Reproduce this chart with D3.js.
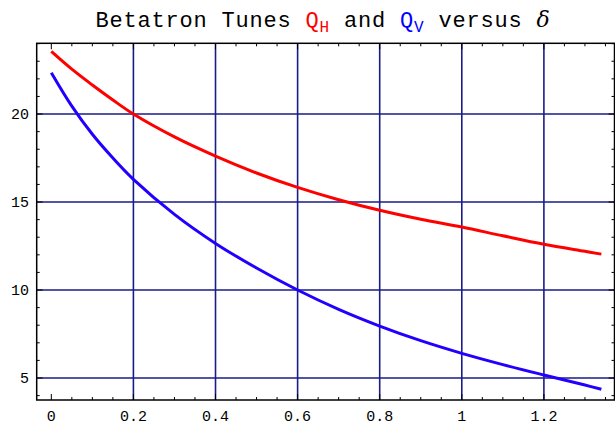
<!DOCTYPE html>
<html>
<head>
<meta charset="utf-8">
<script src="https://cdn.jsdelivr.net/npm/d3@7"></script>
<style>
  body { margin: 0; background: #fff; }
  text { font-family: "Liberation Mono", "DejaVu Sans Mono", monospace; }
</style>
</head>
<body>
<svg width="615" height="425"></svg>
<script>
const svg = d3.select('svg');

// delta values and the two tune curves
const delta = [0, 0.05, 0.1, 0.15, 0.2, 0.3, 0.4, 0.5, 0.6, 0.7, 0.8, 0.9, 1.0, 1.1, 1.2, 1.3, 1.34];
const qH = [23.56, 22.55, 21.65, 20.8, 20.0, 18.7, 17.61, 16.65, 15.83, 15.13, 14.53, 14.02, 13.58, 13.08, 12.6, 12.2, 12.04];
const qV = [22.35, 20.45, 18.85, 17.5, 16.29, 14.3, 12.65, 11.25, 10.0, 8.9, 7.95, 7.12, 6.4, 5.76, 5.17, 4.6, 4.36];

const xTicks = [0, 0.2, 0.4, 0.6, 0.8, 1, 1.2];
const yTicks = [5, 10, 15, 20];

const margin = {top: 43.3, right: 0.5, bottom: 25, left: 36.7};
const width = 615, height = 425;

const xScale = d3.scaleLinear()
    .domain([-0.0356, 1.372])
    .range([margin.left, width - margin.right]);

const yScale = d3.scaleLinear()
    .domain([3.75, 24.02])
    .range([height - margin.bottom, margin.top]);

const gridColor = '#1b1b8a';

// grid lines
svg.append('g').selectAll('line').data(xTicks.filter(d => d > 0))
  .enter().append('line')
    .attr('x1', d => xScale(d)).attr('x2', d => xScale(d))
    .attr('y1', yScale.range()[0]).attr('y2', yScale.range()[1])
    .attr('stroke', gridColor).attr('stroke-width', 1.6);

svg.append('g').selectAll('line').data(yTicks)
  .enter().append('line')
    .attr('x1', xScale.range()[0]).attr('x2', xScale.range()[1])
    .attr('y1', d => yScale(d)).attr('y2', d => yScale(d))
    .attr('stroke', gridColor).attr('stroke-width', 1.6);

// frame ticks on all four sides
const xMinor = d3.range(0, 1.3701, 0.05);
const yMinor = d3.range(4, 24.01, 1);
const isMajX = d => xTicks.some(t => Math.abs(t - d) < 1e-6);
const isMajY = d => yTicks.some(t => Math.abs(t - d) < 1e-6);

const tickG = svg.append('g').attr('stroke', '#000').attr('stroke-width', 1);
xMinor.forEach(d => {
  const len = isMajX(d) ? 6 : 3;
  tickG.append('line').attr('x1', xScale(d)).attr('x2', xScale(d))
    .attr('y1', yScale.range()[0]).attr('y2', yScale.range()[0] - len);
  tickG.append('line').attr('x1', xScale(d)).attr('x2', xScale(d))
    .attr('y1', yScale.range()[1]).attr('y2', yScale.range()[1] + len);
});
yMinor.forEach(d => {
  const len = isMajY(d) ? 6 : 3;
  tickG.append('line').attr('y1', yScale(d)).attr('y2', yScale(d))
    .attr('x1', xScale.range()[0]).attr('x2', xScale.range()[0] + len);
  tickG.append('line').attr('y1', yScale(d)).attr('y2', yScale(d))
    .attr('x1', xScale.range()[1]).attr('x2', xScale.range()[1] - len);
});

// frame
svg.append('rect')
    .attr('x', xScale.range()[0]).attr('y', yScale.range()[1])
    .attr('width', xScale.range()[1] - xScale.range()[0])
    .attr('height', yScale.range()[0] - yScale.range()[1])
    .attr('fill', 'none').attr('stroke', '#000').attr('stroke-width', 1.5);

// tick labels
svg.append('g').selectAll('text').data(xTicks)
  .enter().append('text')
    .attr('x', d => xScale(d)).attr('y', 421)
    .attr('text-anchor', 'middle')
    .attr('font-size', 15)
    .text(d => d3.format('~g')(d));

svg.append('g').selectAll('text').data(yTicks)
  .enter().append('text')
    .attr('x', 29).attr('y', d => yScale(d) + 5)
    .attr('text-anchor', 'end')
    .attr('font-size', 15)
    .text(d => d);

// curves
const pts = vals => delta.map((d, i) => [d, vals[i]]);
const line = d3.line()
    .x(d => xScale(d[0]))
    .y(d => yScale(d[1]))
    .curve(d3.curveCatmullRom);

svg.append('path').datum(pts(qH))
    .attr('d', line).attr('fill', 'none')
    .attr('stroke', '#ff0000').attr('stroke-width', 3);

svg.append('path').datum(pts(qV))
    .attr('d', line).attr('fill', 'none')
    .attr('stroke', '#2200ff').attr('stroke-width', 3);

// title
const title = svg.append('text')
    .attr('x', 323).attr('y', 27)
    .attr('text-anchor', 'middle')
    .attr('font-size', 22)
    .attr('letter-spacing', 0.8);
title.append('tspan').text('Betatron Tunes ');
title.append('tspan').attr('fill', '#ff0000').text('Q');
title.append('tspan').attr('fill', '#ff0000').attr('font-size', 16).attr('dy', 5).text('H');
title.append('tspan').attr('dy', -5).text('  and ');
title.append('tspan').attr('fill', '#0000ff').text('Q');
title.append('tspan').attr('fill', '#0000ff').attr('font-size', 16).attr('dy', 5).text('V');
title.append('tspan').attr('dy', -5).text('  versus ');
title.append('tspan').attr('font-style', 'italic').attr('font-family', 'DejaVu Serif').text('δ');
</script>
</body>
</html>
